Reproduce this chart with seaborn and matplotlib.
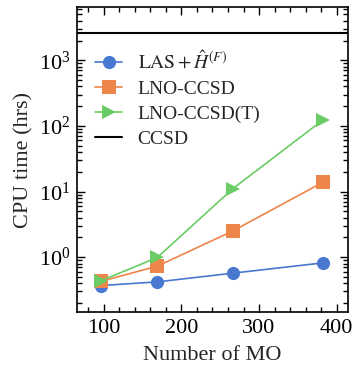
import matplotlib
matplotlib.use("Agg")
import matplotlib.pyplot as plt
import matplotlib.ticker as mticker
import seaborn as sns
import pandas as pd

# Data
n_mo = [97, 169, 266, 383]
las_hf = [0.37, 0.42, 0.57, 0.82]
lno_ccsd = [0.43, 0.73, 2.5, 14.0]
lno_ccsd_t = [0.44, 0.99, 11.0, 125.0]
ccsd_time = 2600.0
labels = [r"$\mathrm{LAS} + \hat{H}^{(F)}$", "LNO-CCSD", "LNO-CCSD(T)", "CCSD"]

sns.set_theme(style="ticks")
plt.rcParams["font.family"] = ["Liberation Serif", "DejaVu Serif"]
plt.rcParams["mathtext.fontset"] = "stix"

colors = sns.color_palette("muted")

fig = plt.figure(figsize=(3.55, 3.66), dpi=100)
ax = fig.add_axes([0.218, 0.147, 0.761, 0.834])

df = pd.DataFrame({"x": n_mo * 3,
                   "y": las_hf + lno_ccsd + lno_ccsd_t,
                   "method": [labels[0]] * 4 + [labels[1]] * 4 + [labels[2]] * 4})
markers = ["o", "s", ">"]
for i, lab in enumerate(labels[:3]):
    sub = df[df["method"] == lab]
    sns.lineplot(data=sub, x="x", y="y", ax=ax, color=colors[i], marker=markers[i],
                 markersize=9.5, markeredgewidth=0, linewidth=1.2, label=lab)
ax.axhline(ccsd_time, color="black", linewidth=1.5, label=labels[3])

ax.set_yscale("log")
ax.set_xlim(66, 414)
ax.set_ylim(0.145, 6500)
ax.xaxis.set_major_locator(mticker.MultipleLocator(100))
ax.xaxis.set_minor_locator(mticker.MultipleLocator(20))
ax.yaxis.set_major_locator(mticker.LogLocator(base=10, numticks=10))
ax.yaxis.set_minor_locator(mticker.LogLocator(base=10, subs=range(2, 10), numticks=20))
ax.yaxis.set_minor_formatter(mticker.NullFormatter())

ax.tick_params(which="both", direction="in", top=True, right=True, width=1.0, colors="black")
ax.tick_params(which="major", length=6, labelsize=16, pad=5)
ax.tick_params(which="minor", length=3.5)
for s in ax.spines.values():
    s.set_linewidth(1.2)
    s.set_color("black")

ax.set_xlabel("Number of MO", fontsize=16, labelpad=6)
ax.set_ylabel("CPU time (hrs)", fontsize=16, labelpad=4)

leg = ax.legend(loc="upper left", bbox_to_anchor=(0.0, 0.915), frameon=False, fontsize=14,
                handlelength=1.4, labelspacing=0.38, handletextpad=0.8)

fig.savefig("out.png", dpi=100)
